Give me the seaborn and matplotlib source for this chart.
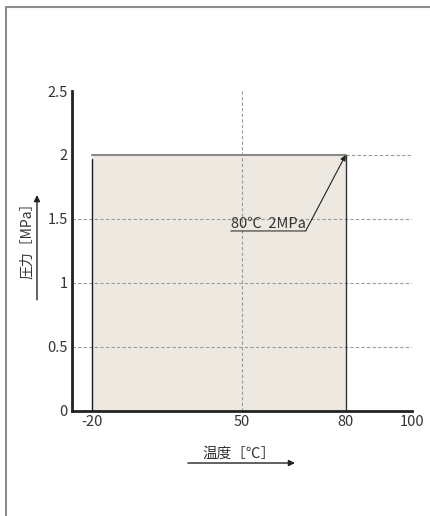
import numpy as np
import matplotlib
matplotlib.use('Agg')
import matplotlib.pyplot as plt
from matplotlib.lines import Line2D
import seaborn as sns

# operating range (temperature in C, pressure in MPa)
temp_range = [-20, 80]
max_pressure = 2.0
x_ticks = [-20, 50, 80, 100]
y_ticks = [0, 0.5, 1, 1.5, 2, 2.5]
y_tick_labels = ['0', '0.5', '1', '1.5', '2', '2.5']
rating_label = '80℃  2MPa'
x_label = '温度［℃］'
y_label = '圧力［MPa］'

sns.set_style('white')
plt.rcParams['font.family'] = ['Noto Sans CJK JP', 'DejaVu Sans']

fig = plt.figure(figsize=(4.3, 5.16), dpi=100)
ax = fig.add_axes([0.1674, 0.2041, 0.7919, 0.6195])

# the x axis of the original is drawn schematically (not evenly spaced)
xs = [-30, -20, 50, 80, 100]
ps = [0, 19.7, 170, 273.7, 340.5]
ax.set_xscale('function', functions=(lambda x: np.interp(x, xs, ps),
                                     lambda p: np.interp(p, ps, xs)))
ax.set_xlim(-30, 100)
ax.set_ylim(0, 2.5)

# dashed guide lines
grid_kw = dict(color='#9a9a9a', lw=0.8, ls=(0, (3, 2)), zorder=2)
for y in y_ticks[1:-2]:
    ax.hlines(y, -30, x_ticks[-1], **grid_kw)
ax.hlines(max_pressure, temp_range[1], x_ticks[-1], **grid_kw)
ax.axvline(50, **grid_kw)

# usable region
ax.fill_between(temp_range, 0, max_pressure, color='#ede9e0', zorder=1, lw=0)
sns.lineplot(x=[temp_range[0]] * 2, y=[0, max_pressure * 0.985], color='#1a1a1a',
             lw=1, ax=ax, zorder=3, sort=False, estimator=None)
sns.lineplot(x=[temp_range[1]] * 2, y=[0, max_pressure], color='#333333',
             lw=1, ax=ax, zorder=3, sort=False, estimator=None)
sns.lineplot(x=temp_range, y=[max_pressure] * 2, color='#8a8a8a',
             lw=1.5, ax=ax, zorder=3, estimator=None)

# rating label, underlined, with leader arrow to the corner
ann = ax.annotate(rating_label, xy=(temp_range[1], max_pressure),
                  xytext=(-40, -76), textcoords='offset pixels',
                  ha='right', va='bottom', fontsize=10.5, color='#333333')
ax.annotate('', xy=(1, 0), xycoords=ann, xytext=(0, 0), textcoords=ann,
            arrowprops=dict(arrowstyle='-', color='#333333', lw=0.8,
                            shrinkA=0, shrinkB=0))
ax.annotate('', xy=(temp_range[1], max_pressure), xycoords='data',
            xytext=(1, 0), textcoords=ann,
            arrowprops=dict(arrowstyle='-|>', color='#222222', lw=0.8,
                            shrinkA=0, shrinkB=0, mutation_scale=8))

ax.set_xticks(x_ticks)
ax.set_xticklabels([str(t) for t in x_ticks])
ax.set_yticks(y_ticks)
ax.set_yticklabels(y_tick_labels)
ax.tick_params(length=0, labelsize=10.5, labelcolor='#333333', pad=3)
ax.set_xlabel('')
ax.set_ylabel('')
for side in ['top', 'right']:
    ax.spines[side].set_visible(False)
for side in ['left', 'bottom']:
    ax.spines[side].set_color('#222222')
    ax.spines[side].set_linewidth(2)
    ax.spines[side].set_zorder(4)

# axis titles with direction arrows
fig.text(0.5547, 0.120, x_label, ha='center', va='center', fontsize=10.5, color='#333333')
ax.annotate('', xy=(0.686, 0.1027), xycoords='figure fraction',
            xytext=(0.437, 0.1027), textcoords='figure fraction',
            arrowprops=dict(arrowstyle='-|>', color='#222222', lw=1,
                            shrinkA=0, shrinkB=0, mutation_scale=9),
            annotation_clip=False)
fig.text(0.063, 0.541, y_label, ha='center', va='center', rotation=90,
         fontsize=10, color='#333333')
ax.annotate('', xy=(0.086, 0.622), xycoords='figure fraction',
            xytext=(0.086, 0.419), textcoords='figure fraction',
            arrowprops=dict(arrowstyle='-|>', color='#222222', lw=1,
                            shrinkA=0, shrinkB=0, mutation_scale=9),
            annotation_clip=False)

# page frame (top and left edges only)
fig.add_artist(Line2D([6 / 430, 1], [1 - 7 / 516] * 2, transform=fig.transFigure,
                      color='#8c8c8c', lw=1.5))
fig.add_artist(Line2D([6 / 430] * 2, [0, 1 - 7 / 516], transform=fig.transFigure,
                      color='#8c8c8c', lw=1.5))

fig.savefig('out.png', dpi=100)
